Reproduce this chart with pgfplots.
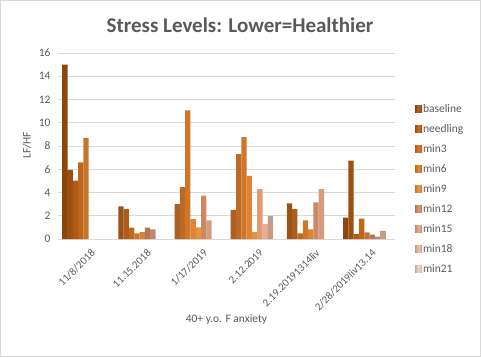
\documentclass[border=0pt]{standalone}
\usepackage{pgfplots}
\pgfplotsset{compat=1.18}
\usepackage{fontspec}
\setmainfont{Carlito}
\definecolor{txt}{HTML}{595959}
\definecolor{grid}{HTML}{D9D9D9}
\definecolor{c1}{HTML}{A8550F}
\definecolor{c2}{HTML}{BE6014}
\definecolor{c3}{HTML}{D36E19}
\definecolor{c4}{HTML}{E67E22}
\definecolor{c5}{HTML}{F08E34}
\definecolor{c6}{HTML}{DE8F62}
\definecolor{c7}{HTML}{E6A684}
\definecolor{c8}{HTML}{ECBDA4}
\definecolor{c9}{HTML}{F1D2C4}
\tikzset{barsty/.style={draw=none, left color=#1!82!black, right color=#1!82!black, middle color=#1!90!white}}
\begin{document}
\begin{tikzpicture}[x=1pt,y=1pt]
\useasboundingbox (0,0) rectangle (481,357);
\draw[grid] (0.5,0.5) rectangle (480.5,356.5);
\node[font=\fontsize{21}{23}\selectfont\bfseries, text=txt] at (240,332) {Stress Levels: Lower=Healthier};
\begin{axis}[
  at={(58pt,118pt)}, anchor=south west,
  scale only axis, width=337pt, height=186pt,
  xmin=-0.5, xmax=5.5, ymin=0, ymax=16,
  ytick={0,2,...,16},
  xtick={0,...,5},
  xticklabels={11/8/2018,11.15.2018,1/17/2019,2.12.2019,2.19.20191314liv,2/28/2019liv13.14},
  x tick label style={rotate=45, anchor=north east, font=\fontsize{10.8}{12}\selectfont, text=txt, inner sep=0.5pt, yshift=-6pt, xshift=0pt},
  y tick label style={font=\fontsize{11.5}{13}\selectfont, text=txt, xshift=-4pt},
  /pgf/number format/assume math mode=true,
  ymajorgrids=true, xmajorgrids=false,
  y grid style={grid, line width=0.8pt},
  axis x line*=bottom, axis y line*=left,
  x axis line style={grid, line width=0.8pt, -},
  y axis line style={draw=none},
  tick style={draw=none},
  ybar=0pt, bar width=0.0944,
  xlabel={40+ y.o. F anxiety},
  xlabel style={at={(axis description cs:0.5,-0.43)}, anchor=center, font=\fontsize{11.5}{13}\selectfont, text=txt},
  ylabel={LF/HF},
  ylabel style={at={(axis description cs:-0.092,0.505)}, anchor=center, rotate=0, font=\fontsize{11.5}{13}\selectfont, text=txt},
  legend cell align=left,
  legend image code/.code={\path[#1] (0pt,-3pt) rectangle (7pt,4pt);},
  legend style={at={(axis description cs:1.05,0.735)}, anchor=north west, draw=none, fill=none,
    font=\fontsize{11.5}{13}\selectfont, text=txt, row sep=9pt,
    nodes={inner sep=1pt, text height=7pt, text depth=2pt}},
]
\addplot[barsty=c1] coordinates {(0,15.0) (1,2.8) (2,2.99) (3,2.5) (4,3.07) (5,1.84)};
\addplot[barsty=c2] coordinates {(0,5.95) (1,2.56) (2,4.46) (3,7.3) (4,2.56) (5,6.75)};
\addplot[barsty=c3] coordinates {(0,5.03) (1,0.98) (2,11.06) (3,8.77) (4,0.49) (5,0.43)};
\addplot[barsty=c4] coordinates {(0,6.6) (1,0.49) (2,1.7) (3,5.43) (4,1.6) (5,1.75)};
\addplot[barsty=c5] coordinates {(0,8.7) (1,0.6) (2,1.0) (3,0.6) (4,0.83) (5,0.58)};
\addplot[barsty=c6] coordinates {(1,0.98) (2,3.74) (3,4.28) (4,3.16) (5,0.37)};
\addplot[barsty=c7] coordinates {(1,0.83) (2,1.6) (3,1.3) (4,4.28) (5,0.2)};
\addplot[barsty=c8] coordinates {(3,1.98) (5,0.69)};
\addplot[barsty=c9] coordinates {(5,0)};
\legend{baseline,needling,min3,min6,min9,min12,min15,min18,min21}
\end{axis}
\end{tikzpicture}
\end{document}
